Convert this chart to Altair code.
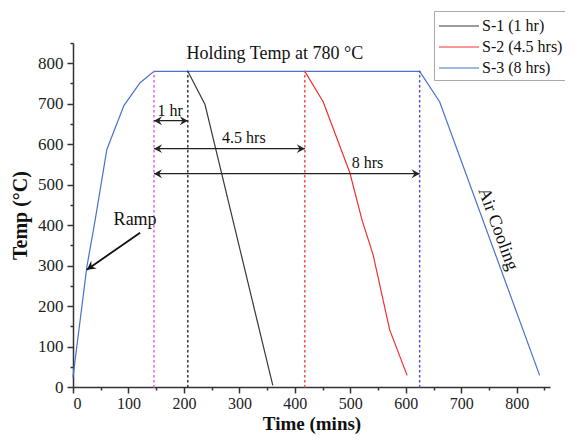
import altair as alt
import pandas as pd

# ---------------- data ----------------
s1_time = [207, 238, 360]
s1_temp = [780, 698, 5]
s2_time = [418, 451, 499, 521, 541, 571, 602]
s2_temp = [780, 705, 530, 413, 327, 141, 30]
s3_time = [0, 25, 40, 61, 92, 121, 146, 625, 661, 841]
s3_temp = [25, 297, 413, 587, 696, 752, 780, 780, 705, 30]
series_names = ["S-1 (1 hr)", "S-2 (4.5 hrs)", "S-3 (8 hrs)"]
series_colors = ["#3a3a3a", "#f03030", "#4a72cc"]
series_widths = [1.2, 1.2, 1.8]

vline_time = [146, 207, 418, 625]
vline_color = ["#e060e0", "#333333", "#f04848", "#5050e0"]
vline_top = 780

arrow_start = 146
arrow_end = [207, 418, 625]
arrow_temp = [658, 589, 527]
arrow_label = ["1 hr", "4.5 hrs", "8 hrs"]
arrow_label_t = [175, 308, 531]
arrow_label_temp = [682, 616, 553]

ramp_from = (121, 381)
ramp_to = (25, 290)

x_major = list(range(0, 900, 100))
x_minor = list(range(50, 900, 100))
y_major = list(range(0, 900, 100))
y_minor = list(range(50, 900, 100))

FONT = "Liberation Serif"

# ---------------- tables ----------------
rows = []
for name, ts, vs in zip(series_names, [s1_time, s2_time, s3_time], [s1_temp, s2_temp, s3_temp]):
    for i, (t, v) in enumerate(zip(ts, vs)):
        rows.append({"series": name, "t": t, "temp": v, "i": i})
lines_df = pd.DataFrame(rows)

xs = alt.Scale(domain=[0, 860], nice=False, zero=False)
ys = alt.Scale(domain=[0, 850], nice=False, zero=False)

lines = alt.Chart(lines_df).mark_line(strokeCap="round").encode(
    x=alt.X("t:Q", scale=xs, axis=alt.Axis(
        values=x_major, title="Time (mins)", grid=False, orient="bottom",
        labelFont=FONT, labelFontSize=16, labelColor="#222",
        titleFont=FONT, titleFontSize=19, titleFontWeight="bold", titleColor="#111",
        tickSize=6, tickColor="#333", domainColor="#333", domainWidth=1.5, tickWidth=1.5,
        labelPadding=2, titlePadding=3)),
    y=alt.Y("temp:Q", scale=ys, axis=alt.Axis(
        values=y_major, title="Temp (°C)", grid=False, orient="left",
        labelFont=FONT, labelFontSize=17, labelColor="#222",
        titleFont=FONT, titleFontSize=20, titleFontWeight="bold", titleColor="#111",
        tickSize=6, tickColor="#333", domainColor="#333", domainWidth=1.5, tickWidth=1.5,
        labelPadding=4, titlePadding=7)),
    color=alt.Color("series:N", scale=alt.Scale(domain=series_names, range=series_colors),
                    legend=alt.Legend(title=None, orient="none", legendX=361, legendY=-32,
                                      symbolType="M-1,0L3,0", symbolSize=400, symbolStrokeWidth=1.5,
                                      labelFont=FONT, labelFontSize=16, labelColor="#111",
                                      strokeColor="#aaa", fillColor="white", padding=4,
                                      rowPadding=2, labelOffset=22)),
    strokeWidth=alt.StrokeWidth("series:N", scale=alt.Scale(domain=series_names, range=series_widths), legend=None),
    order="i:Q",
)

minor_df = pd.DataFrame({"t": [0], "temp": [0]})
minor = alt.Chart(minor_df).mark_point(opacity=0).encode(
    x=alt.X("t:Q", scale=xs, axis=alt.Axis(values=x_minor, labels=False, domain=False, grid=False,
                                            title=None, orient="bottom", tickSize=3, tickColor="#333", tickWidth=1.5)),
    y=alt.Y("temp:Q", scale=ys, axis=alt.Axis(values=y_minor, labels=False, domain=False, grid=False,
                                               title=None, orient="left", tickSize=3, tickColor="#333", tickWidth=1.5)),
)

vdf = pd.DataFrame({"t": vline_time, "c": vline_color, "temp": [0] * len(vline_time), "temp2": [vline_top] * len(vline_time)})
vlines = alt.Chart(vdf).mark_rule(strokeDash=[1.5, 3.5], strokeWidth=1.5, strokeCap="round").encode(
    x=alt.X("t:Q", scale=xs, axis=None),
    y=alt.Y("temp:Q", scale=ys, axis=None),
    y2="temp2:Q",
    color=alt.Color("c:N", scale=None),
)

adf = pd.DataFrame({"t": [arrow_start] * 3, "t2": arrow_end, "temp": arrow_temp})
arrows = alt.Chart(adf).mark_rule(color="#222", strokeWidth=1.2).encode(
    x=alt.X("t:Q", scale=xs, axis=None), x2="t2:Q",
    y=alt.Y("temp:Q", scale=ys, axis=None),
)
RIGHT_HEAD = "M0,0L-1,-0.55L-0.65,0L-1,0.55Z"
LEFT_HEAD = "M0,0L1,-0.55L0.65,0L1,0.55Z"
heads_r = alt.Chart(pd.DataFrame({"t": arrow_end, "temp": arrow_temp})).mark_point(
    shape=RIGHT_HEAD, filled=True, color="#222", size=260, opacity=1).encode(
    x=alt.X("t:Q", scale=xs, axis=None), y=alt.Y("temp:Q", scale=ys, axis=None))
heads_l = alt.Chart(pd.DataFrame({"t": [arrow_start] * 3, "temp": arrow_temp})).mark_point(
    shape=LEFT_HEAD, filled=True, color="#222", size=260, opacity=1).encode(
    x=alt.X("t:Q", scale=xs, axis=None), y=alt.Y("temp:Q", scale=ys, axis=None))

alabels = alt.Chart(pd.DataFrame({"t": arrow_label_t, "temp": arrow_label_temp, "txt": arrow_label})).mark_text(
    font=FONT, fontSize=16, color="#111").encode(
    x=alt.X("t:Q", scale=xs, axis=None), y=alt.Y("temp:Q", scale=ys, axis=None), text="txt:N")

ramp_line = alt.Chart(pd.DataFrame({"t": [ramp_from[0]], "temp": [ramp_from[1]], "t2": [ramp_to[0]], "temp2": [ramp_to[1]]})).mark_rule(
    color="#111", strokeWidth=1.8).encode(
    x=alt.X("t:Q", scale=xs, axis=None), x2="t2:Q",
    y=alt.Y("temp:Q", scale=ys, axis=None), y2="temp2:Q")
ramp_head = alt.Chart(pd.DataFrame({"t": [ramp_to[0]], "temp": [ramp_to[1]]})).mark_point(
    shape=RIGHT_HEAD, filled=True, color="#111", size=300, opacity=1, angle=145).encode(
    x=alt.X("t:Q", scale=xs, axis=None), y=alt.Y("temp:Q", scale=ys, axis=None))

tdf = pd.DataFrame({
    "t": [112, 364, 766],
    "temp": [413, 824, 390],
    "txt": ["Ramp", "Holding Temp at 780 °C", "Air Cooling"],
    "ang": [0, 0, 70],
})
texts = alt.Chart(tdf).mark_text(font=FONT, fontSize=18, color="#111").encode(
    x=alt.X("t:Q", scale=xs, axis=None), y=alt.Y("temp:Q", scale=ys, axis=None),
    text="txt:N", angle=alt.Angle("ang:Q", scale=None))

chart = alt.layer(lines, minor, vlines, arrows, heads_r, heads_l, alabels, ramp_line, ramp_head, texts).resolve_axis(
    x="independent", y="independent"
).properties(
    width=477, height=344,
    padding={"left": 65, "top": 35, "right": 15, "bottom": 48},
    autosize=alt.AutoSizeParams(type="none"),
    background="white",
).configure_view(stroke=None)

chart.save("out.html", embed_options={"renderer": "svg", "actions": False})
